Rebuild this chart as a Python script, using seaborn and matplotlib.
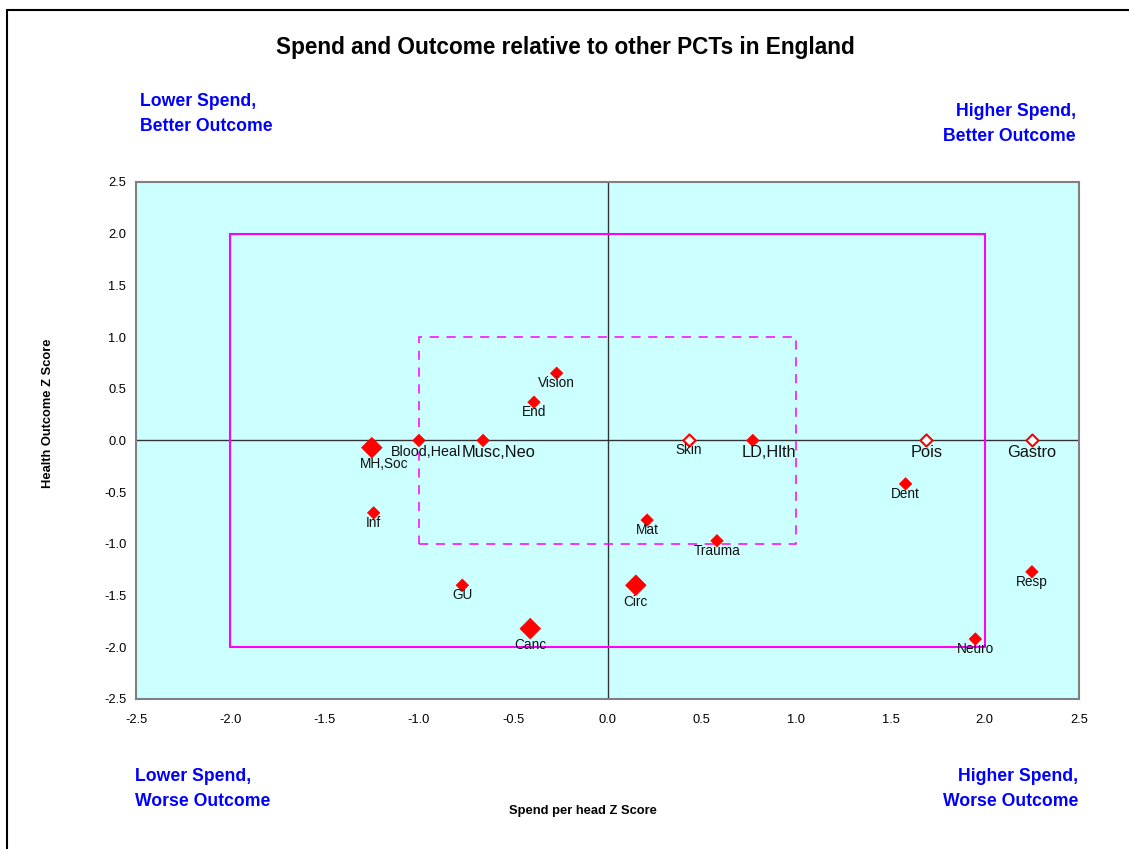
import matplotlib
matplotlib.use("Agg")
import matplotlib.pyplot as plt
import seaborn as sns
import pandas as pd
from matplotlib.patches import Rectangle
from matplotlib.lines import Line2D


# chart data
labels = ["MH,Soc", "Blood,Heal", "Musc,Neo", "Vision", "End", "Inf", "GU", "Canc",
          "Circ", "Mat", "Trauma", "Skin", "LD,Hlth", "Pois", "Gastro", "Dent",
          "Resp", "Neuro"]
spend_z = [-1.25, -1.00, -0.66, -0.27, -0.39, -1.24, -0.77, -0.41,
           0.15, 0.21, 0.58, 0.43, 0.77, 1.69, 2.25, 1.58,
           2.25, 1.95]
outcome_z = [-0.07, 0.00, 0.00, 0.65, 0.37, -0.70, -1.40, -1.82,
             -1.40, -0.77, -0.97, 0.00, 0.00, 0.00, 0.00, -0.42,
             -1.27, -1.92]
series = ["large", "small", "small", "small", "small", "small", "small", "large",
          "large", "small", "small", "hollow", "small", "hollow", "hollow", "small",
          "small", "small"]

axis_ticks = [-2.5, -2.0, -1.5, -1.0, -0.5, 0.0, 0.5, 1.0, 1.5, 2.0, 2.5]

df = pd.DataFrame({"label": labels, "spend": spend_z, "outcome": outcome_z,
                   "series": series})

sns.set_theme(style="white")
plt.rcParams["font.family"] = ["Liberation Sans", "DejaVu Sans"]
plt.rcParams["text.color"] = "black"

fig = plt.figure(figsize=(11.29, 8.49), dpi=100)
ax = fig.add_axes([0.1205, 0.1767, 0.8353, 0.609])
ax.set_facecolor("#CCFFFF")

# zero lines
ax.axhline(0, color="#333333", lw=1, zorder=1)
ax.axvline(0, color="#333333", lw=1, zorder=1)

# +/-2 and +/-1 boxes
ax.add_patch(Rectangle((-2, -2), 4, 4, fill=False, edgecolor="#FF00FF", lw=1.5, zorder=2))
ax.add_patch(Rectangle((-1, -1), 2, 2, fill=False, edgecolor="#FF00FF", lw=1.1,
                       linestyle=(0, (6, 5)), zorder=2))

filled = df[df["series"] != "hollow"]
sns.scatterplot(data=filled, x="spend", y="outcome", size="series",
                sizes={"small": 40, "large": 110}, marker="D", color="red",
                edgecolor="red", linewidth=0.5, legend=False, ax=ax, zorder=4)
hollow = df[df["series"] == "hollow"]
sns.scatterplot(data=hollow, x="spend", y="outcome", marker="D", s=38,
                facecolor="white", edgecolor="red", linewidth=1.5,
                legend=False, ax=ax, zorder=4)

# point labels under each marker
big_text = {"Musc,Neo", "LD,Hlth", "Pois", "Gastro"}
shift_x = {"MH,Soc": 9, "Blood,Heal": 5, "Musc,Neo": 11, "LD,Hlth": 11.5}
for _, r in df.iterrows():
    name = r["label"]
    if name in big_text:
        fs, dy = 11.8, -3
    elif name == "Blood,Heal":
        fs, dy = 10.3, -3.5
    else:
        fs = 9.8
        dy = -7 if r["series"] == "large" else -2
    ax.annotate(name, (r["spend"], r["outcome"]),
                xytext=(shift_x.get(name, 0), dy), textcoords="offset points",
                ha="center", va="top", fontsize=fs, color="#111111", zorder=5)

ax.set_xlim(-2.5, 2.5)
ax.set_ylim(-2.5, 2.5)
ax.set_xticks(axis_ticks)
ax.set_yticks(axis_ticks)
ax.set_xticklabels([f"{t:.1f}" for t in axis_ticks], fontsize=9.3, color="black")
ax.set_yticklabels([f"{t:.1f}" for t in axis_ticks], fontsize=9.3, color="black")
ax.tick_params(axis="x", length=0, pad=11)
ax.tick_params(axis="y", length=0, pad=7)
ax.set_xlabel("")
ax.set_ylabel("")
for sp in ax.spines.values():
    sp.set_color("#808080")
    sp.set_linewidth(1.5)
    sp.set_visible(True)

fig.text(0.5004, 0.9445, "Spend and Outcome relative to other PCTs in England",
         ha="center", va="center", fontsize=16.3, fontweight="bold")
fig.text(0.5164, 0.0448, "Spend per head Z Score", ha="center", va="center",
         fontsize=9.3, fontweight="bold")
fig.text(0.0425, 0.5135, "Health Outcome Z Score", ha="center", va="center",
         fontsize=9.3, fontweight="bold", rotation=90)

blue = "#0000FF"
qfs = 12.7
ls = 1.55
fig.text(140 / 1129, 1 - 114 / 849, "Lower Spend,\nBetter Outcome", ha="left",
         va="center", fontsize=qfs, fontweight="bold", color=blue, linespacing=ls)
fig.text(1076 / 1129, 1 - 124 / 849, "Higher Spend,\nBetter Outcome", ha="right",
         va="center", fontsize=qfs, fontweight="bold", color=blue, linespacing=ls)
fig.text(135 / 1129, 1 - 789 / 849, "Lower Spend,\nWorse Outcome", ha="left",
         va="center", fontsize=qfs, fontweight="bold", color=blue, linespacing=ls)
fig.text(1078 / 1129, 1 - 789 / 849, "Higher Spend,\nWorse Outcome", ha="right",
         va="center", fontsize=qfs, fontweight="bold", color=blue, linespacing=ls)

# outer chart frame (top and left edges visible)
fig.add_artist(Line2D([7 / 1129, 7 / 1129], [0, 1 - 10 / 849], color="black", lw=1.5))
fig.add_artist(Line2D([7 / 1129, 1], [1 - 10 / 849, 1 - 10 / 849], color="black", lw=1.5))

fig.savefig("out.png", dpi=100)
